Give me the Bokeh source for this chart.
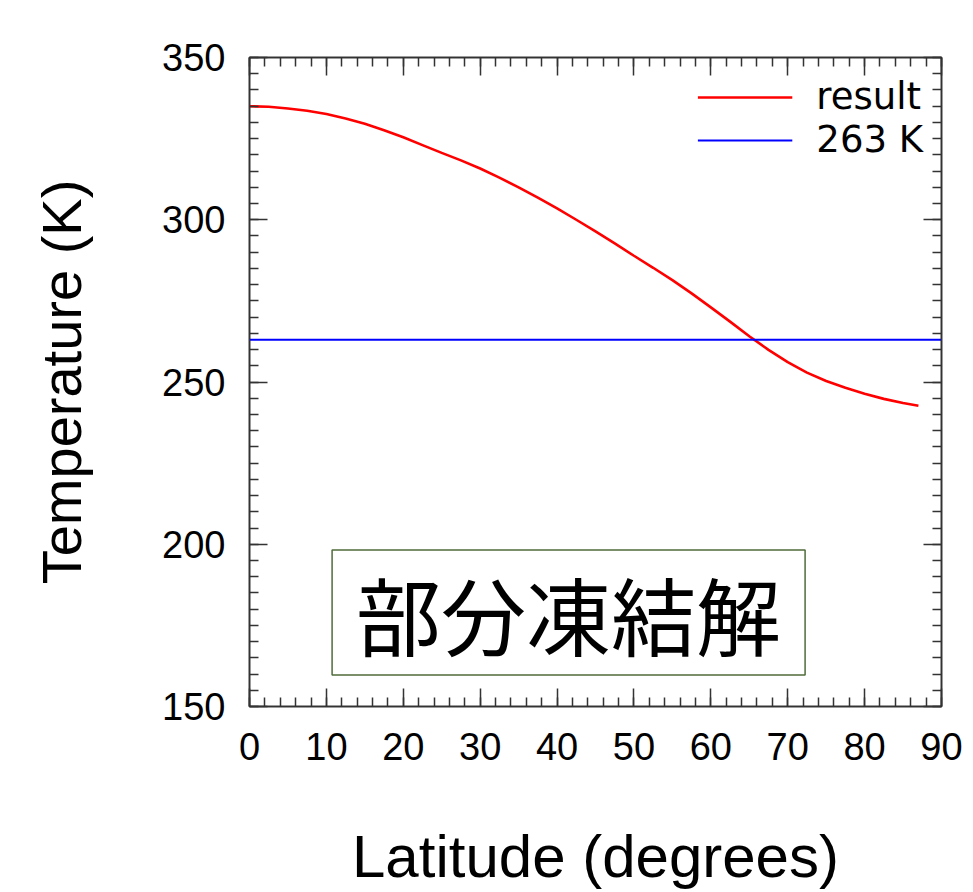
from bokeh.plotting import figure
from bokeh.models import (LinearAxis, SingleIntervalTicker, Label, Legend, LegendItem,
                          Range1d, ColumnDataSource, CustomJSTickFormatter)
from bokeh.embed import file_html
from bokeh.resources import INLINE

# ---- data ----
latitude = [0, 2.5, 5, 7.5, 10, 12.5, 15, 17.5, 20, 22.5, 25, 27.5, 30, 32.5, 35, 37.5,
            40, 42.5, 45, 47.5, 50, 52.5, 55, 57.5, 60, 62.5, 65, 67.5, 70, 72.5, 75,
            77.5, 80, 82.5, 85, 87]
temperature = [335.0, 334.8, 334.3, 333.6, 332.6, 331.2, 329.6, 327.6, 325.4, 323.0,
               320.6, 318.3, 315.8, 313.0, 310.0, 306.8, 303.5, 300.0, 296.4, 292.7,
               288.9, 285.2, 281.4, 277.3, 273.0, 268.6, 264.1, 259.9, 256.1, 252.9,
               250.3, 248.2, 246.4, 244.8, 243.5, 242.7]
ref_lat = [0, 90]
ref_temp = [263, 263]
x_ticks_interval = 10
y_ticks_interval = 50
legend_labels = ["result", "263 K"]
box_text = "部分凍結解"

p = figure(width=973, height=892, output_backend="svg", toolbar_location=None,
           x_range=Range1d(0, 90), y_range=Range1d(150, 350),
           min_border_left=249, min_border_right=32, min_border_top=57,
           min_border_bottom=185, x_axis_label="Latitude (degrees)",
           y_axis_label="Temperature (K)")
p.grid.visible = False
p.outline_line_color = "black"
p.outline_line_width = 1.5
p.background_fill_color = "white"
p.border_fill_color = "white"

xt = SingleIntervalTicker(interval=x_ticks_interval, num_minor_ticks=5)
yt = SingleIntervalTicker(interval=y_ticks_interval, num_minor_ticks=10)

def style_axis(ax):
    ax.axis_line_color = "#333333"
    ax.axis_line_width = 1.5
    ax.major_tick_in = 18
    ax.major_tick_out = 0
    ax.minor_tick_in = 9
    ax.minor_tick_out = 0
    ax.major_tick_line_color = "#333333"
    ax.minor_tick_line_color = "#333333"
    ax.major_tick_line_width = 1.5
    ax.minor_tick_line_width = 1.5
    ax.major_label_text_font = "Liberation Sans"
    ax.major_label_text_font_size = "38px"
    ax.major_label_text_color = "black"
    ax.axis_label_text_font = "Liberation Sans"
    ax.axis_label_text_font_style = "normal"
    ax.axis_label_text_color = "black"

xa = p.xaxis[0]
xa.ticker = xt
style_axis(xa)
xa.axis_label_text_font_size = "60px"
xa.major_label_standoff = 26
xa.axis_label_standoff = 60

ya = p.yaxis[0]
ya.ticker = yt
style_axis(ya)
ya.axis_label_text_font_size = "56px"
ya.major_label_standoff = 24
ya.axis_label_standoff = 66

top_ax = LinearAxis(ticker=SingleIntervalTicker(interval=x_ticks_interval, num_minor_ticks=5),
                    formatter=CustomJSTickFormatter(code="return '';"))
style_axis(top_ax)
top_ax.major_label_standoff = 0
p.add_layout(top_ax, "above")
right_ax = LinearAxis(ticker=SingleIntervalTicker(interval=y_ticks_interval, num_minor_ticks=10),
                      formatter=CustomJSTickFormatter(code="return '';"))
style_axis(right_ax)
right_ax.major_label_standoff = 0
p.add_layout(right_ax, "right")

src = ColumnDataSource(dict(x=latitude, y=temperature))
src2 = ColumnDataSource(dict(x=ref_lat, y=ref_temp))
r1 = p.line("x", "y", source=src, line_color="#ff0000", line_width=2.6)
r2 = p.line("x", "y", source=src2, line_color="#0000ff", line_width=2)

legend = Legend(items=[LegendItem(label=legend_labels[0], renderers=[r1]),
                       LegendItem(label=legend_labels[1], renderers=[r2])],
                location="top_right")
legend.border_line_color = None
legend.background_fill_alpha = 0
legend.label_text_font = "DejaVu Sans"
legend.label_text_font_size = "37px"
legend.label_text_color = "black"
legend.glyph_width = 95
legend.glyph_height = 40
legend.label_standoff = 24
legend.spacing = 0
legend.padding = 0
legend.margin = 18
legend.label_height = 40
p.add_layout(legend)

lbl = Label(x=41.5, y=179, text=box_text, text_align="center", text_baseline="middle",
            text_font="Noto Sans CJK JP", text_font_size="85px", text_color="black",
            border_line_color="#4f6b3a", border_line_width=1.5,
            background_fill_color="white",
            padding=dict(left=24, right=24, top=1, bottom=1))
p.add_layout(lbl)

open("out.html", "w").write(file_html(p, INLINE))
